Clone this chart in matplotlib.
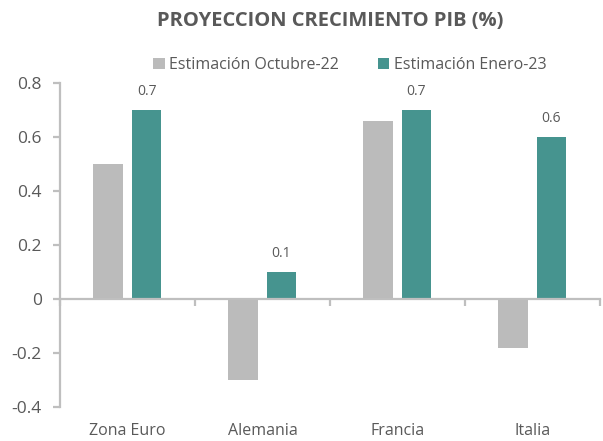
import numpy as np
import matplotlib
matplotlib.use("Agg")
import matplotlib.pyplot as plt
import matplotlib.transforms as mtransforms

plt.rcParams['font.family'] = ['Open Sans', 'DejaVu Sans']

# data
paises = ['Zona Euro', 'Alemania', 'Francia', 'Italia']
octubre_22 = [0.5, -0.3, 0.66, -0.18]
enero_23 = [0.7, 0.1, 0.7, 0.6]
series_names = ['Estimación Octubre-22', 'Estimación Enero-23']

gris = '#BBBBBB'
verde = '#46948F'
texto = '#595959'
eje = '#BFBFBF'

fig = plt.figure(figsize=(6.03, 4.41), dpi=100)
ax = fig.add_axes([0.0995, 0.077, 0.895, 0.735])

x = np.arange(len(paises))
w = 0.22
ax.bar(x - 0.142, octubre_22, w, color=gris, label=series_names[0])
b2 = ax.bar(x + 0.142, enero_23, w, color=verde, label=series_names[1])

for rect, v in zip(b2, enero_23):
    ax.annotate(f'{v:.1f}', (rect.get_x() + rect.get_width() / 2, v),
                xytext=(0, 8), textcoords='offset points',
                ha='center', va='bottom', fontsize=10, color=texto)

ax.set_xlim(-0.5, len(paises) - 0.5)
ax.set_ylim(-0.4, 0.8)
ax.set_yticks([-0.4, -0.2, 0, 0.2, 0.4, 0.6, 0.8])
ax.set_yticklabels(['-0.4', '-0.2', '0', '0.2', '0.4', '0.6', '0.8'])

ax.spines['top'].set_visible(False)
ax.spines['right'].set_visible(False)
ax.spines['bottom'].set_position(('data', 0))
for s in ['left', 'bottom']:
    ax.spines[s].set_color(eje)
    ax.spines[s].set_linewidth(1.6)

ax.set_xticks(np.arange(len(paises) + 1) - 0.5)
ax.set_xticklabels([])
ax.tick_params(axis='x', direction='out', length=5, width=1.6, color=eje)
ax.tick_params(axis='y', direction='out', length=5, width=1.6, color=eje,
               labelsize=12.5, labelcolor=texto, pad=8)

trans = mtransforms.blended_transform_factory(ax.transData, ax.transAxes)
for i, p in enumerate(paises):
    ax.text(i, -0.05, p, transform=trans, ha='center', va='top',
            fontsize=11.5, color=texto)

fig.text(0.547, 0.952, 'PROYECCION CRECIMIENTO PIB (%)', ha='center', va='center',
         fontsize=14.5, fontweight='bold', color=texto)

fig.legend(loc='center', bbox_to_anchor=(0.58, 0.852), ncol=2, frameon=False,
           fontsize=11.5, labelcolor=texto, handlelength=0.7, handleheight=0.7,
           handletextpad=0.3, columnspacing=2.4)

fig.savefig('out.png', dpi=100)
